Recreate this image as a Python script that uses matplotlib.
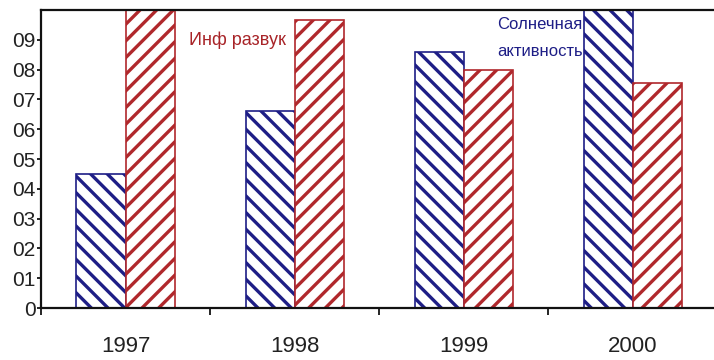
import numpy as np
import matplotlib.pyplot as plt

plt.rcParams['font.family'] = ['Liberation Sans', 'DejaVu Sans']
plt.rcParams['hatch.linewidth'] = 2.4

# данные
years = ['1997', '1998', '1999', '2000']
solar = [4.5, 6.6, 8.6, 10.0]      # Солнечная активность
infr = [10.0, 9.65, 8.0, 7.55]     # Инф развук
ytick_vals = [0, 1, 2, 3, 4, 5, 6, 7, 8, 9]
ytick_labels = ['0', '01', '02', '03', '04', '05', '06', '07', '08', '09']

blue = '#1e1e86'
red = '#b0282c'

fig = plt.figure(figsize=(7.14, 3.6), dpi=100)
ax = fig.add_axes([0.0574, 0.1444, 0.9474, 0.8278])

x = np.arange(len(years))
w = 0.29
ax.bar(x - w/2, solar, w, facecolor='white', edgecolor=blue, hatch='\\\\', linewidth=1.2)
ax.bar(x + w/2, infr, w, facecolor='white', edgecolor=red, hatch='//', linewidth=1.2)

ax.set_xlim(-0.5, 3.5)
ax.set_ylim(0, 10)

ax.set_yticks(ytick_vals)
ax.set_yticklabels(ytick_labels, fontsize=15, color='#222222')
ax.tick_params(axis='y', length=3, width=1.2, pad=1)

ax.set_xticks(x)
ax.set_xticklabels(years, fontsize=16, color='#222222')
ax.tick_params(axis='x', which='major', length=0, pad=20)
ax.set_xticks(np.arange(-0.5, 4.0, 1.0), minor=True)
ax.tick_params(axis='x', which='minor', length=5, width=1.2, direction='out')

for s in ['left', 'bottom', 'top']:
    ax.spines[s].set_linewidth(1.6)
    ax.spines[s].set_color('#111111')
ax.spines['right'].set_visible(False)

ax.text(0.66, 9.0, 'Инф развук', color='#a82428', fontsize=13, ha='center', va='center')
ax.text(2.45, 9.06, 'Солнечная\nактивность', color='#1e1e86', fontsize=12,
        ha='center', va='center', linespacing=2.0)

fig.savefig('out.png', dpi=100)
